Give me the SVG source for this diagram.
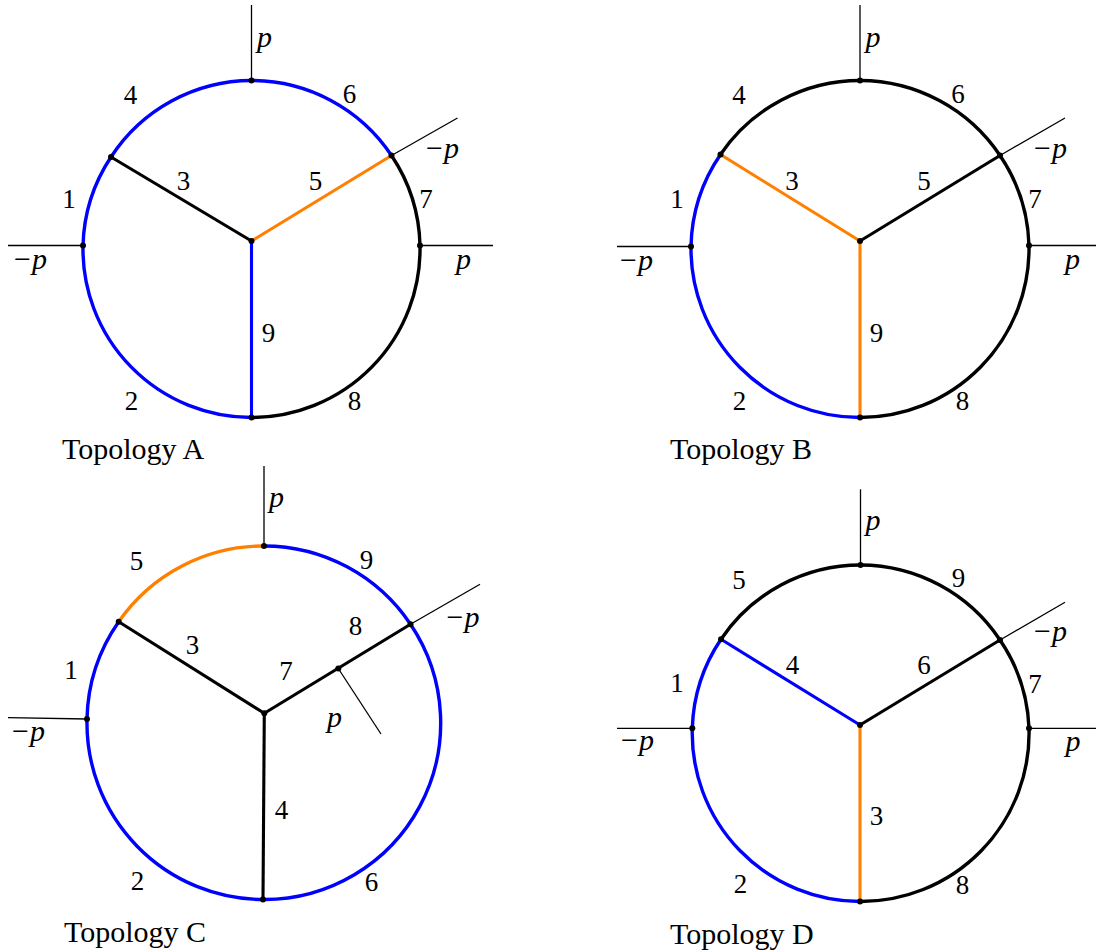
<svg xmlns="http://www.w3.org/2000/svg" width="1096" height="952" viewBox="0 0 1096 952">
<style>
.arc{fill:none;stroke-width:3.4;stroke-linecap:butt}
.sp{fill:none;stroke-width:3.1}
.b{stroke:#0000ff}.o{stroke:#ff8000}.k{stroke:#000000}
.ext{stroke:#000000;stroke-width:1.3;fill:none}
.dot{fill:#000000}
.num{font-family:"Liberation Serif","Times New Roman",serif;font-size:27px;text-anchor:middle;fill:#000}
.mom{font-family:"Liberation Serif","Times New Roman",serif;font-size:30px;font-style:italic;fill:#000}
.mom .m{font-style:normal}
.cap{font-family:"Liberation Serif","Times New Roman",serif;font-size:30px;fill:#000}
</style>
<rect width="1096" height="952" fill="#ffffff"/>

<!-- Topology A -->
<g id="topoA">
 <g id="A-connectors">
  <path class="arc b" d="M111,157 A168.5,168.5 0 0 1 251.5,80.5"/>
  <path class="arc b" d="M251.5,80.5 A168.5,168.5 0 0 1 391.5,155.5"/>
  <path class="arc k" d="M391.5,155.5 A168.5,168.5 0 0 1 420,245.5"/>
  <path class="arc k" d="M420,245.5 A168.5,168.5 0 0 1 251.5,417.5"/>
  <path class="arc b" d="M251.5,417.5 A168.5,168.5 0 0 1 83,245.5"/>
  <path class="arc b" d="M83,245.5 A168.5,168.5 0 0 1 111,157"/>
  <path class="sp k" d="M251.5,241 L111,157"/>
  <path class="sp o" d="M251.5,241 L391.5,155.5"/>
  <path class="sp b" d="M251.5,241 L251.5,417.5"/>
  <path class="ext" d="M251.5,5 L251.5,80.5"/>
  <path class="ext" d="M391.5,155.5 L457.5,118"/>
  <path class="ext" d="M8,245.5 L83,245.5"/>
  <path class="ext" d="M420,245.5 L493,245.5"/>
 </g>
 <g id="A-n-top"><circle class="dot" cx="251.5" cy="80.5" r="3"/></g>
 <g id="A-n-ul"><circle class="dot" cx="111" cy="157" r="3"/></g>
 <g id="A-n-ur"><circle class="dot" cx="391.5" cy="155.5" r="3"/></g>
 <g id="A-n-left"><circle class="dot" cx="83" cy="245.5" r="3"/></g>
 <g id="A-n-right"><circle class="dot" cx="420" cy="245.5" r="3"/></g>
 <g id="A-n-center"><circle class="dot" cx="251.5" cy="241" r="3"/></g>
 <g id="A-n-bottom"><circle class="dot" cx="251.5" cy="417.5" r="3"/></g>
 <g id="A-labels">
  <text class="mom" x="257" y="47">p</text>
  <text class="num" x="130.5" y="104">4</text>
  <text class="num" x="349.5" y="103">6</text>
  <text class="mom" x="426" y="158"><tspan class="m">−</tspan><tspan dx="1">p</tspan></text>
  <text class="num" x="183.5" y="190">3</text>
  <text class="num" x="315.5" y="189.5">5</text>
  <text class="num" x="69" y="207.5">1</text>
  <text class="num" x="426" y="208">7</text>
  <text class="mom" x="14" y="269"><tspan class="m">−</tspan><tspan dx="1">p</tspan></text>
  <text class="mom" x="456" y="269">p</text>
  <text class="num" x="268.5" y="341.5">9</text>
  <text class="num" x="131.5" y="409.5">2</text>
  <text class="num" x="354.5" y="410">8</text>
  <text class="cap" x="62" y="459">Topology A</text>
 </g>
</g>

<!-- Topology B -->
<g id="topoB">
 <g id="B-connectors">
  <path class="arc k" d="M720.5,154.5 A169,169 0 0 1 860,80.5"/>
  <path class="arc k" d="M860,80.5 A169,169 0 0 1 1000,155.5"/>
  <path class="arc k" d="M1000,155.5 A169,169 0 0 1 1029,245.5"/>
  <path class="arc k" d="M1029,245.5 A169,169 0 0 1 860,417.5"/>
  <path class="arc b" d="M860,417.5 A169,169 0 0 1 691,246.5"/>
  <path class="arc b" d="M691,246.5 A169,169 0 0 1 720.5,154.5"/>
  <path class="sp o" d="M860,241 L720.5,154.5"/>
  <path class="sp k" d="M860,241 L1000,155.5"/>
  <path class="sp o" d="M860,241 L860,417.5"/>
  <path class="ext" d="M860,5 L860,80.5"/>
  <path class="ext" d="M1000,155.5 L1065,118"/>
  <path class="ext" d="M617,246.5 L691,246.5"/>
  <path class="ext" d="M1029,245.5 L1096,245.5"/>
 </g>
 <g id="B-n-top"><circle class="dot" cx="860" cy="80.5" r="3"/></g>
 <g id="B-n-ul"><circle class="dot" cx="720.5" cy="154.5" r="3"/></g>
 <g id="B-n-ur"><circle class="dot" cx="1000" cy="155.5" r="3"/></g>
 <g id="B-n-left"><circle class="dot" cx="691" cy="246.5" r="3"/></g>
 <g id="B-n-right"><circle class="dot" cx="1029" cy="245.5" r="3"/></g>
 <g id="B-n-center"><circle class="dot" cx="860" cy="241" r="3"/></g>
 <g id="B-n-bottom"><circle class="dot" cx="860" cy="417.5" r="3"/></g>
 <g id="B-labels">
  <text class="mom" x="865.5" y="47">p</text>
  <text class="num" x="739" y="104">4</text>
  <text class="num" x="958" y="103">6</text>
  <text class="mom" x="1034" y="158"><tspan class="m">−</tspan><tspan dx="1">p</tspan></text>
  <text class="num" x="792" y="190">3</text>
  <text class="num" x="924" y="190">5</text>
  <text class="num" x="677" y="207.5">1</text>
  <text class="num" x="1035" y="208">7</text>
  <text class="mom" x="620" y="269.5"><tspan class="m">−</tspan><tspan dx="1">p</tspan></text>
  <text class="mom" x="1065" y="269">p</text>
  <text class="num" x="876.5" y="341.5">9</text>
  <text class="num" x="739.5" y="409.5">2</text>
  <text class="num" x="962.5" y="410">8</text>
  <text class="cap" x="670" y="459">Topology B</text>
 </g>
</g>

<!-- Topology C -->
<g id="topoC">
 <g id="C-connectors">
  <path class="arc o" d="M118.7,621.7 A176.5,176.5 0 0 1 264,546"/>
  <path class="arc b" d="M264,546 A176.5,176.5 0 0 1 410.5,624.3"/>
  <path class="arc b" d="M410.5,624.3 A176.5,176.5 0 0 1 263,899.5"/>
  <path class="arc b" d="M263,899.5 A176.5,176.5 0 0 1 87,719"/>
  <path class="arc b" d="M87,719 A176.5,176.5 0 0 1 118.7,621.7"/>
  <path class="sp k" d="M264.3,713.3 L118.7,621.7"/>
  <path class="sp k" d="M264.3,713.3 L410.5,624.3"/>
  <path class="sp k" d="M264.3,713.3 L263,899.5"/>
  <path class="ext" d="M264,466 L264,546"/>
  <path class="ext" d="M410.5,624.3 L480,584.3"/>
  <path class="ext" d="M8,717.7 L87,719"/>
  <path class="ext" d="M338.3,668.5 L381,734"/>
 </g>
 <g id="C-n-top"><circle class="dot" cx="264" cy="546" r="3"/></g>
 <g id="C-n-ul"><circle class="dot" cx="118.7" cy="621.7" r="3"/></g>
 <g id="C-n-ur"><circle class="dot" cx="410.5" cy="624.3" r="3"/></g>
 <g id="C-n-mid"><circle class="dot" cx="338.3" cy="668.5" r="3"/></g>
 <g id="C-n-left"><circle class="dot" cx="87" cy="719" r="3"/></g>
 <g id="C-n-center"><circle class="dot" cx="264.3" cy="713.3" r="3"/></g>
 <g id="C-n-bottom"><circle class="dot" cx="263" cy="899.5" r="3"/></g>
 <g id="C-labels">
  <text class="mom" x="269" y="507">p</text>
  <text class="num" x="136.5" y="570">5</text>
  <text class="num" x="366.5" y="568.5">9</text>
  <text class="mom" x="446.5" y="627"><tspan class="m">−</tspan><tspan dx="1">p</tspan></text>
  <text class="num" x="355.5" y="635">8</text>
  <text class="num" x="192.5" y="653.5">3</text>
  <text class="num" x="286" y="680">7</text>
  <text class="num" x="71" y="678.5">1</text>
  <text class="mom" x="327" y="727">p</text>
  <text class="mom" x="12" y="740.5"><tspan class="m">−</tspan><tspan dx="1">p</tspan></text>
  <text class="num" x="281.5" y="818.5">4</text>
  <text class="num" x="137.5" y="890">2</text>
  <text class="num" x="371.5" y="891">6</text>
  <text class="cap" x="64" y="941.5">Topology C</text>
 </g>
</g>

<!-- Topology D -->
<g id="topoD">
 <g id="D-connectors">
  <path class="arc k" d="M721,639.3 A168.3,168.3 0 0 1 860.5,565"/>
  <path class="arc k" d="M860.5,565 A168.3,168.3 0 0 1 1000,640"/>
  <path class="arc k" d="M1000,640 A168.3,168.3 0 0 1 1029,728.3"/>
  <path class="arc k" d="M1029,728.3 A168.3,168.3 0 0 1 860,901.5"/>
  <path class="arc b" d="M860,901.5 A168.3,168.3 0 0 1 692.3,728.3"/>
  <path class="arc b" d="M692.3,728.3 A168.3,168.3 0 0 1 721,639.3"/>
  <path class="sp b" d="M860,725 L721,639.3"/>
  <path class="sp k" d="M860,725 L1000,640"/>
  <path class="sp o" d="M860,725 L860,901.5"/>
  <path class="ext" d="M860.5,489.3 L860.5,565"/>
  <path class="ext" d="M1000,640 L1065,602.3"/>
  <path class="ext" d="M617,728.3 L692.3,728.3"/>
  <path class="ext" d="M1029,728.3 L1096,728.3"/>
 </g>
 <g id="D-n-top"><circle class="dot" cx="860.5" cy="565" r="3"/></g>
 <g id="D-n-ul"><circle class="dot" cx="721" cy="639.3" r="3"/></g>
 <g id="D-n-ur"><circle class="dot" cx="1000" cy="640" r="3"/></g>
 <g id="D-n-left"><circle class="dot" cx="692.3" cy="728.3" r="3"/></g>
 <g id="D-n-right"><circle class="dot" cx="1029" cy="728.3" r="3"/></g>
 <g id="D-n-center"><circle class="dot" cx="860" cy="725" r="3"/></g>
 <g id="D-n-bottom"><circle class="dot" cx="860" cy="901.5" r="3"/></g>
 <g id="D-labels">
  <text class="mom" x="865.5" y="530">p</text>
  <text class="num" x="739" y="588.5">5</text>
  <text class="num" x="958.5" y="587">9</text>
  <text class="mom" x="1034" y="640.5"><tspan class="m">−</tspan><tspan dx="1">p</tspan></text>
  <text class="num" x="792.5" y="673.5">4</text>
  <text class="num" x="924" y="673.5">6</text>
  <text class="num" x="677" y="691.5">1</text>
  <text class="num" x="1035" y="693">7</text>
  <text class="mom" x="621" y="749.5"><tspan class="m">−</tspan><tspan dx="1">p</tspan></text>
  <text class="mom" x="1065.5" y="750.5">p</text>
  <text class="num" x="876.5" y="825">3</text>
  <text class="num" x="740.5" y="892.5">2</text>
  <text class="num" x="962.5" y="894">8</text>
  <text class="cap" x="670" y="943.5">Topology D</text>
 </g>
</g>
</svg>
